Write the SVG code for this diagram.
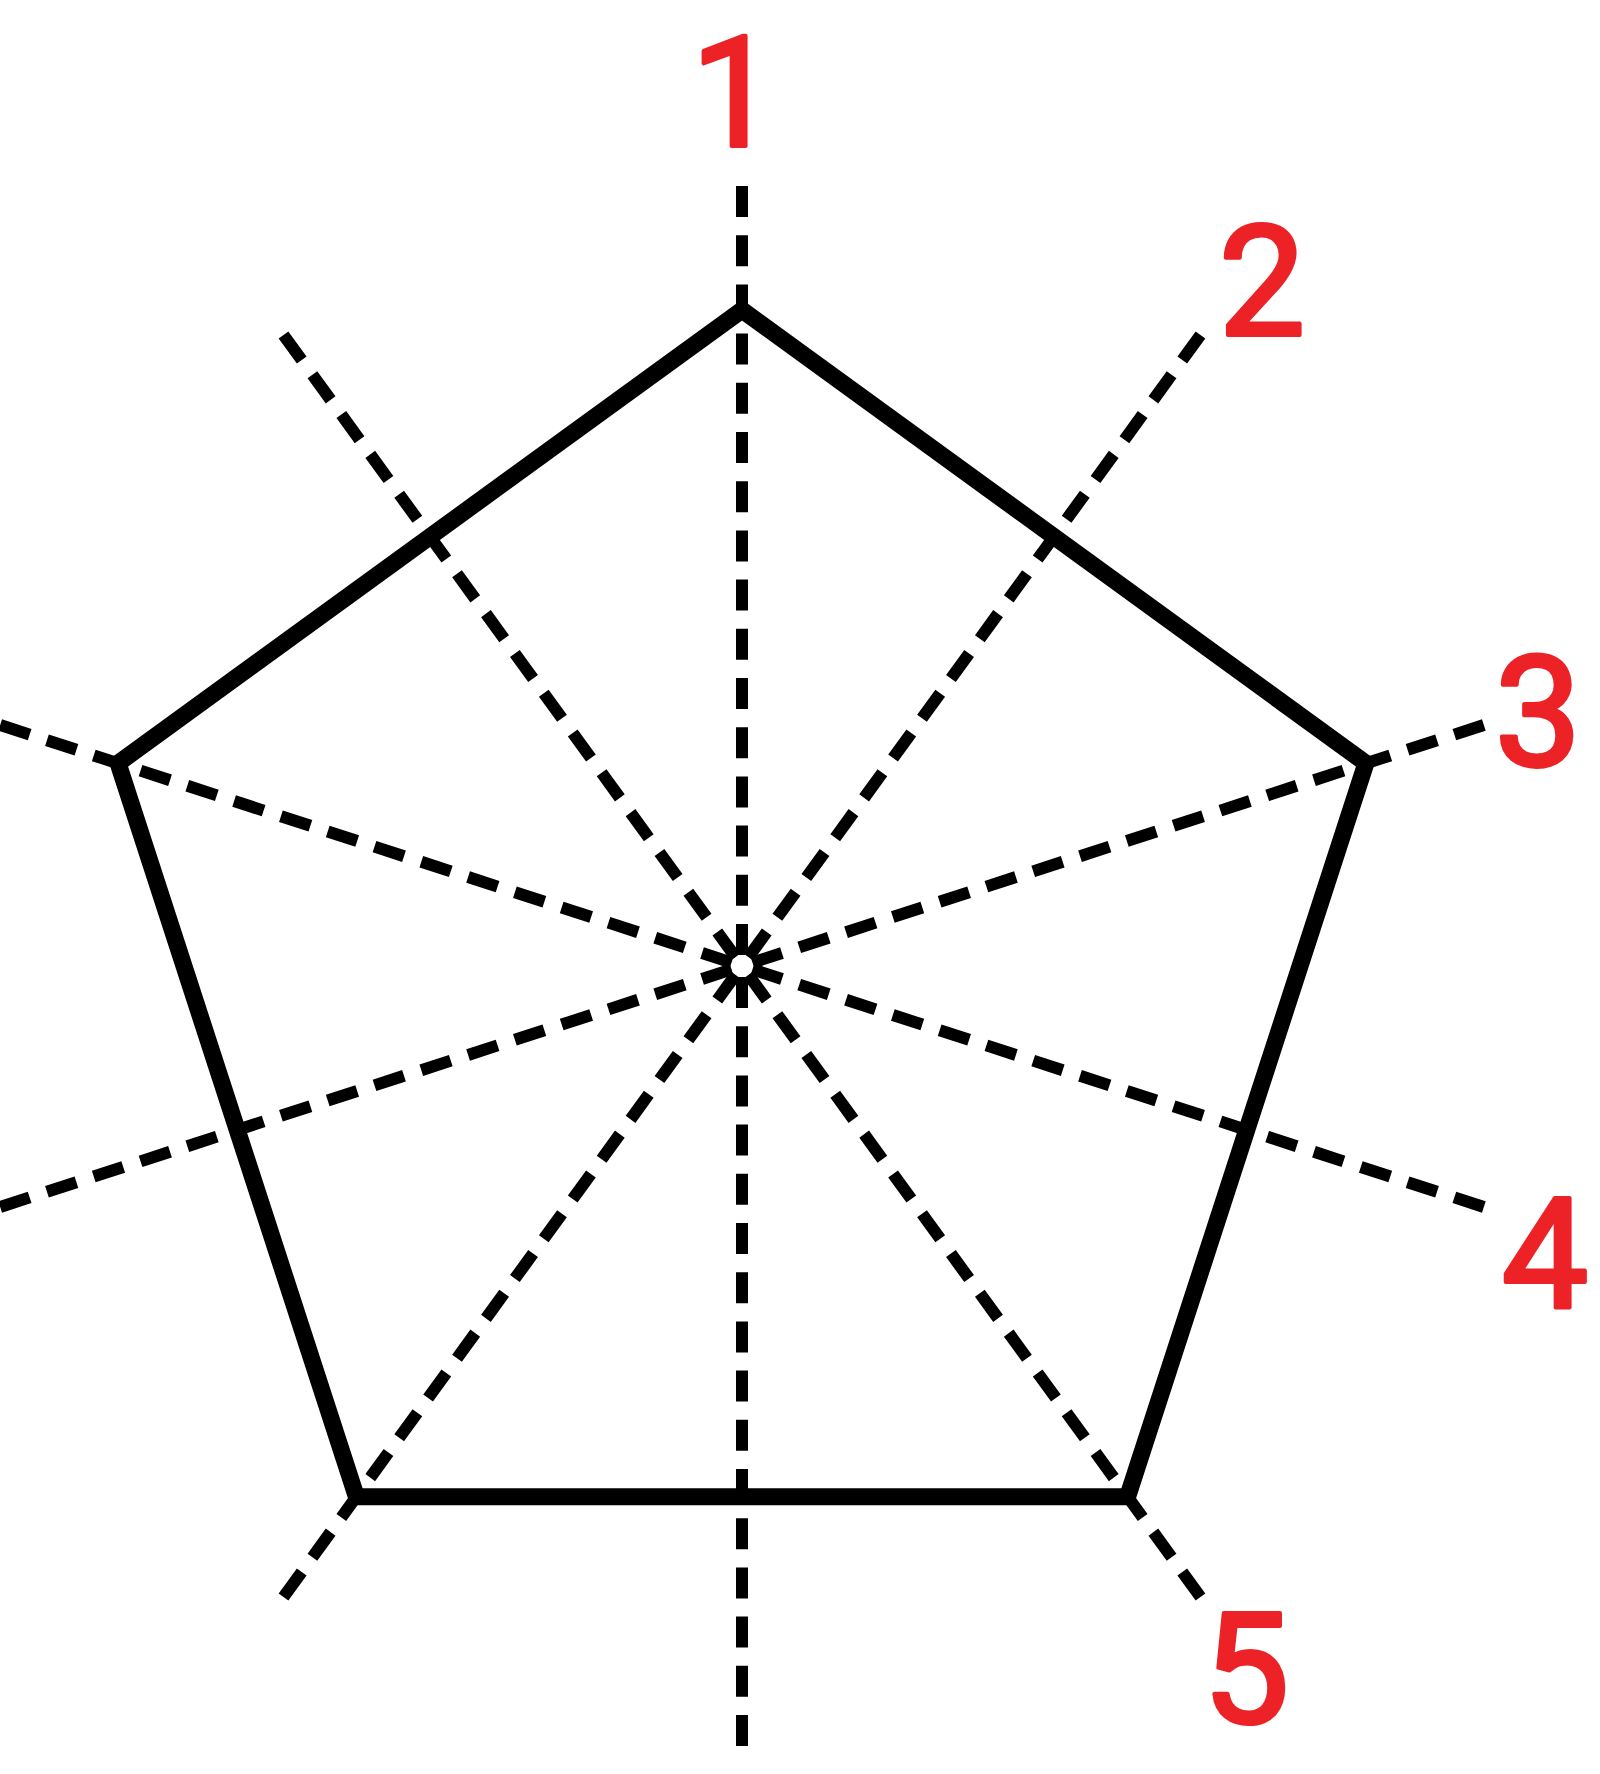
<svg xmlns="http://www.w3.org/2000/svg" width="1600" height="1774" viewBox="0 0 1600 1774">
<style>
.ray{stroke:#000;stroke-width:12;stroke-dasharray:31 18.2;stroke-linecap:butt;fill:none}
.edge{stroke:#000;stroke-width:17;stroke-linejoin:miter;fill:none}
.lbl{font-family:Roboto,"Liberation Sans",sans-serif;font-size:154px;fill:#ec2227;stroke:#ec2227;stroke-width:4;stroke-linejoin:round;text-anchor:middle}
</style>
<rect width="1600" height="1774" fill="#fff"/>
<g id="connectors">
<line class="ray" x1="742" y1="955" x2="742" y2="186"/>
<line class="ray" x1="748.47" y1="957.10" x2="1200.5" y2="335.0"/>
<line class="ray" x1="752.46" y1="962.60" x2="1483.9" y2="725.0"/>
<line class="ray" x1="752.46" y1="969.40" x2="1483.9" y2="1207.0"/>
<line class="ray" x1="748.47" y1="974.90" x2="1200.5" y2="1597.0"/>
<line class="ray" x1="742" y1="977" x2="742" y2="1746"/>
<line class="ray" x1="735.53" y1="974.90" x2="283.5" y2="1597.0"/>
<line class="ray" x1="731.54" y1="969.40" x2="0.1" y2="1207.0"/>
<line class="ray" x1="731.54" y1="962.60" x2="0.1" y2="725.0"/>
<line class="ray" x1="735.53" y1="957.10" x2="283.5" y2="335.0"/>
</g>
<g id="pentagon">
<polygon class="edge" points="742,310 1365.9,763.3 1127.6,1496.7 356.4,1496.7 118.1,763.3"/>
</g>
<g id="label-1"><text class="lbl" x="734" y="146">1</text></g>
<g id="label-2"><text class="lbl" x="1262" y="335">2</text></g>
<g id="label-3"><text class="lbl" x="1538" y="766">3</text></g>
<g id="label-4"><text class="lbl" x="1545" y="1307">4</text></g>
<g id="label-5"><text class="lbl" x="1246" y="1723">5</text></g>
</svg>
